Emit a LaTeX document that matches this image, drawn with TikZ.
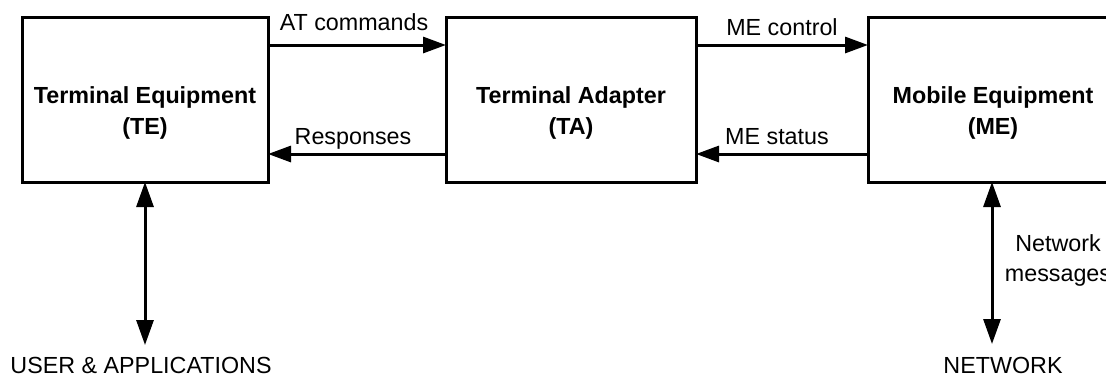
\documentclass[tikz,border=0pt]{standalone}
\usepackage{fontspec}
\setmainfont{Liberation Sans}
\usetikzlibrary{arrows.meta}

\tikzset{
  unitbox/.style={draw, line width=3pt, minimum width=246pt, minimum height=165pt,
    inner sep=0pt, outer sep=0pt},
  boxlabel/.style={font=\fontsize{23.3}{31}\selectfont\bfseries, align=center, inner sep=0pt},
  plainlabel/.style={font=\fontsize{23.3}{30}\selectfont, align=center, inner sep=0pt},
  flow/.style={line width=3pt, -{Triangle[length=23pt,width=16pt]}},
  twoway/.style={line width=3pt, {Triangle[length=25pt,width=17pt]}-{Triangle[length=25pt,width=17pt]}},
}

\begin{document}
\begin{tikzpicture}[x=1pt, y=-1pt]
  \clip (0,0) rectangle (1106,376);

  % the three units; the mobile equipment runs past the right edge
  \node[unitbox] (te) at (145,99.5) {};
  \node[unitbox, minimum width=250pt] (ta) at (571,99.5) {};
  \node[unitbox, minimum width=250pt] (me) at (993,99.5) {};

  \node[boxlabel] (tetext) at ([yshift=-13pt]te.center) {Terminal Equipment\\(TE)};
  \node[boxlabel] (tatext) at ([yshift=-13pt]ta.center) {Terminal Adapter\\(TA)};
  \node[boxlabel] (metext) at ([yshift=-13pt]me.center) {Mobile Equipment\\(ME)};

  % horizontal message flows
  \draw[flow] ([yshift=54.5pt]te.east) -- ([yshift=54.5pt]ta.west)
    node[plainlabel, midway, anchor=base, yshift=15pt, xshift=-3pt] {AT commands};
  \draw[flow] ([yshift=-54.5pt]ta.west) -- ([yshift=-54.5pt]te.east)
    node[plainlabel, midway, anchor=base, yshift=10pt, xshift=-4pt] {Responses};
  \draw[flow] ([yshift=54.5pt]ta.east) -- ([yshift=54.5pt]me.west)
    node[plainlabel, midway, anchor=base, yshift=10pt] {ME control};
  \draw[flow] ([yshift=-54.5pt]me.west) -- ([yshift=-54.5pt]ta.east)
    node[plainlabel, midway, anchor=base, yshift=10pt, xshift=-5pt] {ME status};

  % outside ends
  \node[plainlabel, anchor=base] (user) at (141,373) {USER \& APPLICATIONS};
  \node[plainlabel, anchor=base] (net) at (1003,373) {NETWORK};
  \coordinate (userend) at (145,345);
  \coordinate (netend) at (992,344);

  \draw[twoway] (te.south) -- (userend);
  \draw[twoway] (me.south -| netend) -- (netend);
  \node[plainlabel] (netmsg) at (1058,260) {Network\\messages};
\end{tikzpicture}
\end{document}
